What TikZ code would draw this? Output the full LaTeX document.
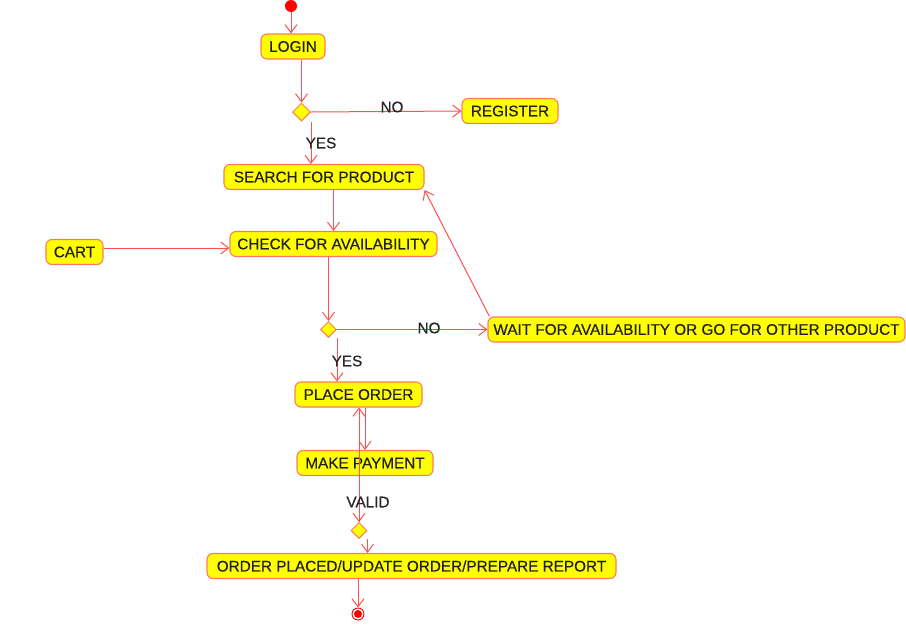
\documentclass[tikz,border=0pt]{standalone}
\usepackage{fontspec}
\setmainfont{Liberation Sans}
\newfontfamily\diagfont[FakeBold=0.35]{Liberation Sans}
\usetikzlibrary{shapes.geometric,arrows.meta,calc}
\definecolor{actfill}{HTML}{FFFF00}
\definecolor{actedge}{HTML}{FF7A5C}
\definecolor{flow}{HTML}{FF5050}
\definecolor{dot}{HTML}{FF0000}
\begin{document}
\begin{tikzpicture}[x=1pt,y=-1pt,
  act/.style={draw=actedge, fill=actfill, line width=1.1pt, rounded corners=6pt,
    minimum height=25pt, inner sep=0pt, font=\diagfont\fontsize{15.3}{17}\selectfont, text=black!88},
  dec/.style={diamond, draw=actedge, fill=actfill, line width=1pt, aspect=1,
    minimum width=18pt, minimum height=18pt, inner sep=0pt},
  flowline/.style={draw=flow, line width=1pt, -{Straight Barb[length=8pt,width=12pt]}},
  lbl/.style={font=\diagfont\fontsize{15.3}{17}\selectfont, text=black!85, inner sep=0pt}]

% canvas
\fill[white] (0,0) rectangle (906,627);
\useasboundingbox (0,0) rectangle (906,627);

% start / end
\node[circle, fill=dot, minimum size=12pt, inner sep=0pt] (start) at (291,6) {};
\node[circle, draw=dot, fill=white, line width=0.9pt, minimum size=12pt, inner sep=0pt] (end) at (358,614) {};
\fill[dot] (end.center) circle (4pt);

% activities
\node[act, minimum width=64pt]  (login)    at (293,46.5)   {LOGIN};
\node[act, minimum width=96pt]  (register) at (510,111)    {REGISTER};
\node[act, minimum width=200pt] (search)   at (324,177)    {SEARCH FOR PRODUCT};
\node[act, minimum width=207pt] (check)    at (333.5,244)  {CHECK FOR AVAILABILITY};
\node[act, minimum width=57pt]  (cart)     at (74.5,252)   {CART};
\node[act, minimum width=417pt] (wait)     at (696.5,329.5){WAIT FOR AVAILABILITY OR GO FOR OTHER PRODUCT};
\node[act, minimum width=127pt] (place)    at (358.5,394.5){PLACE ORDER};
\node[act, minimum width=136pt] (pay)      at (365,463)    {MAKE PAYMENT};
\node[act, minimum width=409pt] (final)    at (411.5,566)  {ORDER PLACED/UPDATE ORDER/PREPARE REPORT};

% decisions
\node[dec] (d1) at (301.5,112) {};
\node[dec, minimum width=16pt, minimum height=16pt] (d2) at (328.5,329.5) {};
\node[dec, minimum width=16pt, minimum height=16pt] (d3) at (359,530.5) {};

% flows
\draw[flowline] (start.south) -- (start.south |- login.north);
\draw[flowline] (login.south -| d1.north) -- (d1.north);
\draw[flowline] (d1.east) -- (register.west);
\draw[flowline] (d1.east |- d1.south) -- (d1.east |- search.north);
\draw[flowline] (check.north |- search.south) -- (check.north);
\draw[flowline] ([yshift=4pt]cart.east) -- ([yshift=4pt]cart.east -| check.west);
\draw[flowline] (d2.north |- check.south) -- (d2.north);
\draw[flowline] (d2.east) -- (wait.west);
\draw[flowline] ([xshift=2pt]wait.north west) -- (search.south east);
\draw[flowline] (d2.east |- d2.south) -- (d2.east |- place.north);
\draw[flowline] (pay.north |- place.south) -- (pay.north);
\draw[flowline] (d3.north |- pay.south) -- (d3.north);
\draw[flowline] (d3.north) -- (d3.north |- place.south);
\draw[flowline] (d3.east |- d3.south) -- (d3.east |- final.north);
\draw[flowline] (end.north |- final.south) -- (end.north);

% guard labels
\node[lbl] (noA)   at (392,107) {NO};
\node[lbl] (yesA)  at (321,143) {YES};
\node[lbl] (noB)   at (429,328) {NO};
\node[lbl] (yesB)  at (347,361) {YES};
\node[lbl] (valid) at (368,502) {VALID};
\end{tikzpicture}
\end{document}
